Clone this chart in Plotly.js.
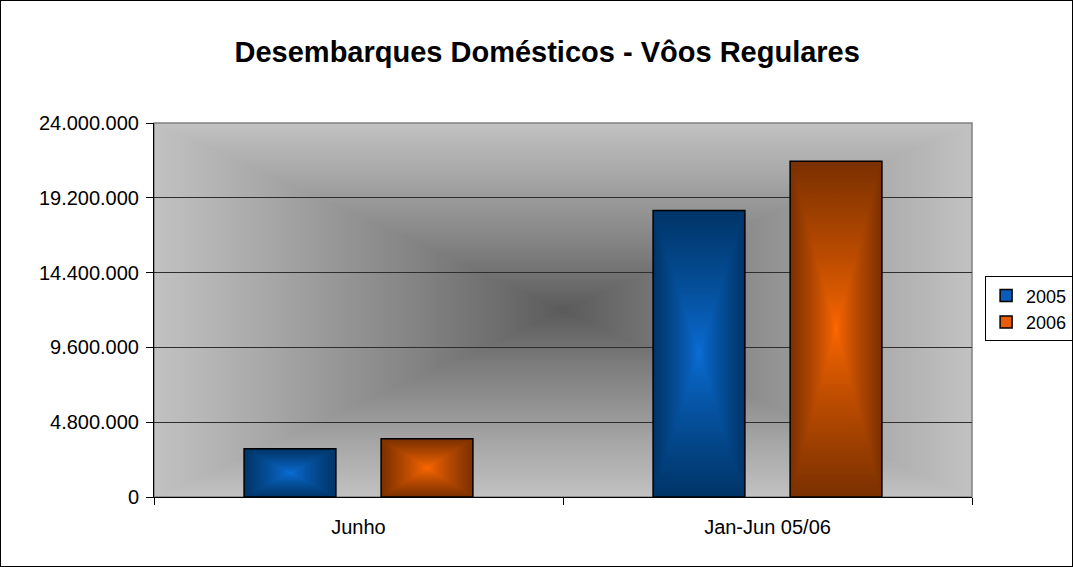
<!DOCTYPE html>
<html>
<head>
<meta charset="utf-8">
<script src="https://cdn.plot.ly/plotly-3.0.1.min.js"></script>
<style>
  body { margin: 0; background: #fff; }
  #chart { width: 1073px; height: 567px; box-sizing: border-box; border: 1px solid #000; overflow: hidden; }
</style>
</head>
<body>
<div id="chart"></div>
<script>
var categorias = ['Junho', 'Jan-Jun 05/06'];
var anos = ['2005', '2006'];
var valores2005 = [3090000, 18390000];
var valores2006 = [3730000, 21550000];
var yTicks = [0, 4800000, 9600000, 14400000, 19200000, 24000000];

// gradiente retangular "do centro" (estilo Excel) num canvas
function gradiente(w, h, centro, borda, curva) {
    var c = document.createElement('canvas');
    c.width = w; c.height = h;
    var ctx = c.getContext('2d');
    var img = ctx.createImageData(w, h);
    for (var j = 0; j < h; j++) {
        for (var i = 0; i < w; i++) {
            var dx = Math.abs((i + 0.5) / w - 0.5) * 2;
            var dy = Math.abs((j + 0.5) / h - 0.5) * 2;
            var t = Math.pow(Math.max(dx, dy), curva || 1);
            var k = (j * w + i) * 4;
            for (var n = 0; n < 3; n++) {
                img.data[k + n] = Math.round(centro[n] + (borda[n] - centro[n]) * t);
            }
            img.data[k + 3] = 255;
        }
    }
    ctx.putImageData(img, 0, 0);
    return c.toDataURL();
}

var fundo = gradiente(400, 200, [90, 90, 90], [194, 194, 194], 0.9);

var data = [
    {
        x: categorias,
        y: valores2005,
        name: anos[0],
        type: 'bar',
        marker: { color: '#0a5cb8', line: { color: '#000', width: 1.5 } },
        hoverinfo: 'none'
    },
    {
        x: categorias,
        y: valores2006,
        name: anos[1],
        type: 'bar',
        marker: { color: '#e85c0a', line: { color: '#000', width: 1.5 } },
        hoverinfo: 'none'
    }
];

var layout = {
    width: 1071,
    height: 565,
    margin: { l: 153, r: 100, t: 122, b: 69, autoexpand: false },
    paper_bgcolor: '#fff',
    plot_bgcolor: '#c0c0c0',
    separators: ',.',
    font: { family: '"Liberation Sans", Arial, sans-serif', size: 20, color: '#000' },
    title: {
        text: 'Desembarques Domésticos - Vôos Regulares',
        font: { size: 29, family: '"Liberation Sans", Arial, sans-serif', weight: 'bold' },
        x: 0.51,
        xanchor: 'center',
        y: 0.91,
        yanchor: 'middle'
    },
    barmode: 'group',
    bargap: 0.33,
    bargroupgap: 0.33,
    xaxis: {
        type: 'category',
        showline: true,
        linecolor: '#000',
        linewidth: 1,
        ticks: 'outside',
        tickson: 'boundaries',
        ticklen: 7,
        tickcolor: '#000',
        showgrid: false,
        ticklabelstandoff: 12,
        tickfont: { size: 20 }
    },
    yaxis: {
        range: [0, 24000000],
        tickvals: yTicks,
        tickformat: ',d',
        showline: true,
        linecolor: '#000',
        linewidth: 1,
        ticks: 'outside',
        ticklen: 7,
        tickcolor: '#000',
        gridcolor: '#2e2e2e',
        gridwidth: 1,
        zeroline: false,
        ticklabelstandoff: 3,
        tickfont: { size: 20 }
    },
    legend: {
        x: 1.016,
        xanchor: 'left',
        y: 0.503,
        yanchor: 'middle',
        bgcolor: '#fff',
        bordercolor: '#000',
        borderwidth: 1,
        font: { size: 18 }
    },
    images: [{
        source: fundo,
        xref: 'paper', yref: 'paper',
        x: 0, y: 1, sizex: 1, sizey: 1,
        xanchor: 'left', yanchor: 'top',
        sizing: 'stretch',
        layer: 'below'
    }],
    shapes: [{
        type: 'rect', xref: 'paper', yref: 'paper',
        x0: 0, x1: 1, y0: 0, y1: 1,
        line: { color: '#808080', width: 1.5 },
        layer: 'below'
    }]
};

Plotly.newPlot('chart', data, layout, { displayModeBar: false, staticPlot: true }).then(function(gd) {
    // preenchimento das barras com gradiente a partir do centro
    var ns = 'http://www.w3.org/2000/svg';
    var svg = gd.querySelector('svg.main-svg');
    var defs = svg.querySelector('defs');
    var cores = [
        { id: 'g2005', centro: [10, 110, 215], borda: [0, 52, 102] },
        { id: 'g2006', centro: [255, 104, 0], borda: [122, 48, 0] }
    ];
    cores.forEach(function(c) {
        var pat = document.createElementNS(ns, 'pattern');
        pat.setAttribute('id', c.id);
        pat.setAttribute('patternUnits', 'objectBoundingBox');
        pat.setAttribute('patternContentUnits', 'objectBoundingBox');
        pat.setAttribute('width', 1);
        pat.setAttribute('height', 1);
        var im = document.createElementNS(ns, 'image');
        im.setAttribute('href', gradiente(60, 60, c.centro, c.borda, 0.8));
        im.setAttribute('width', 1);
        im.setAttribute('height', 1);
        im.setAttribute('preserveAspectRatio', 'none');
        pat.appendChild(im);
        defs.appendChild(pat);
    });
    var traces = gd.querySelectorAll('.barlayer .trace');
    traces.forEach(function(tr, i) {
        tr.querySelectorAll('.point path').forEach(function(p) {
            p.style.fill = 'url(#' + cores[i].id + ')';
        });
    });
});
</script>
</body>
</html>
